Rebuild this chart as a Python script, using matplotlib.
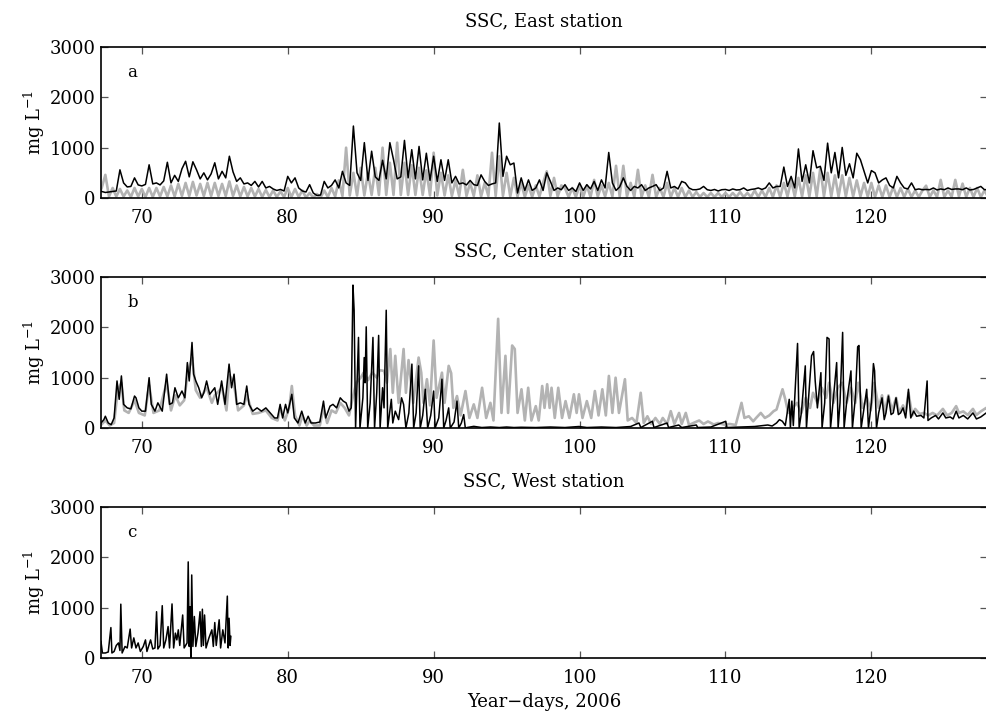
import numpy as np
import matplotlib
matplotlib.use("Agg")
import matplotlib.pyplot as plt

plt.rcParams['font.family'] = ['DejaVu Serif']
plt.rcParams['mathtext.fontset'] = 'dejavuserif'

# East station, sampled every 6 h starting at day 67.0 (one row per day)
east_t0 = 67.0
east_step = 0.25
east_black = [
    150, 130, 110, 120,   130, 140, 560, 300,   220, 230, 400, 260,
    240, 270, 660, 280,   300, 260, 340, 710,   300, 450, 330, 580,
    730, 420, 720, 560,   380, 500, 360, 480,   700, 380, 530, 400,
    830, 520, 330, 400,   280, 300, 250, 330,   220, 330, 200, 230,
    180, 150, 170, 140,   430, 300, 400, 200,   140, 120, 265, 100,
    50, 60, 330, 200,     250, 360, 200, 530,   300, 250, 1430, 500,
    350, 1100, 350, 930,  420, 350, 750, 380,   1100, 760, 380, 420,
    1145, 400, 960, 380,  1025, 360, 890, 350,  830, 330, 760, 350,
    760, 300, 430, 280,   300, 260, 350, 265,   250, 460, 330, 250,
    280, 300, 1490, 430,  830, 660, 695, 100,   400, 150, 360, 150,
    200, 360, 150, 500,   330, 150, 200, 165,   265, 150, 200, 130,
    300, 150, 265, 180,   330, 150, 360, 200,   905, 300, 150, 220,
    400, 230, 150, 230,   200, 265, 150, 200,   230, 265, 150, 200,
    530, 200, 230, 180,   330, 300, 200, 165,   165, 180, 230, 165,
    150, 170, 140, 165,   170, 150, 180, 160,   165, 200, 150, 170,
    180, 200, 170, 200,   300, 200, 230, 230,   615, 230, 430, 200,
    975, 330, 660, 300,   940, 600, 630, 350,   1090, 500, 905, 400,
    1005, 450, 680, 400,  890, 760, 530, 300,   545, 500, 300, 360,
    400, 250, 200, 430,   300, 200, 180, 300,   165, 180, 165, 170,
    165, 200, 160, 180,   165, 200, 170, 180,   180, 165, 200, 160,
    170, 200, 230, 165,   170, 180, 170, 160,
]
east_gray = [
    50, 200, 460, 30,     200, 30, 180, 30,     150, 20, 200, 30,
    180, 20, 200, 20,     200, 30, 220, 30,     250, 30, 280, 40,
    300, 40, 320, 50,     280, 40, 300, 40,     300, 40, 280, 40,
    330, 40, 250, 30,     220, 30, 200, 30,     180, 20, 160, 20,
    150, 20, 130, 20,     200, 20, 180, 20,     150, 10, 100, 10,
    80, 10, 150, 20,      200, 30, 350, 40,     1000, 50, 500, 50,
    600, 50, 500, 60,     600, 60, 1000, 60,    700, 60, 1100, 60,
    700, 60, 650, 60,     600, 60, 550, 50,     900, 50, 500, 50,
    450, 40, 350, 40,     560, 40, 300, 40,     450, 30, 300, 40,
    900, 40, 830, 40,     500, 30, 400, 30,     300, 20, 250, 20,
    250, 30, 300, 530,    40, 400, 30, 250,     200, 20, 200, 20,
    250, 20, 250, 20,     360, 30, 250, 30,     300, 30, 640, 30,
    640, 30, 300, 20,     560, 20, 250, 20,     460, 20, 200, 20,
    300, 20, 200, 20,     200, 20, 150, 20,     120, 20, 100, 20,
    100, 20, 100, 20,     100, 20, 100, 20,     120, 20, 100, 20,
    150, 20, 150, 20,     200, 20, 250, 20,     300, 30, 350, 30,
    400, 30, 450, 30,     500, 30, 595, 30,     500, 30, 450, 30,
    450, 30, 400, 30,     350, 30, 300, 30,     300, 20, 250, 20,
    250, 20, 220, 20,     200, 20, 180, 20,     150, 20, 150, 245,
    20, 150, 20, 360,     20, 150, 20, 360,     30, 285, 20, 200,
    20, 200, 20, 150,     20, 150, 20, 100,
]

# Center station, black series (day, mg/L)
center_black_day = [
    67.2, 67.4, 67.5, 67.7, 67.9, 68.1, 68.3, 68.45, 68.6, 68.75,
    69.0, 69.25, 69.5, 69.6, 69.8, 70.0, 70.25, 70.5, 70.65, 70.9,
    71.1, 71.4, 71.7, 71.9, 72.1, 72.27, 72.5, 72.75, 72.95, 73.12,
    73.25, 73.44, 73.55, 73.7, 73.9, 74.1, 74.25, 74.44, 74.65, 75.0,
    75.2, 75.47, 75.7, 75.98, 76.15, 76.32, 76.5, 76.75, 77.0, 77.19,
    77.35, 77.6, 77.9, 78.2, 78.5, 78.8, 79.1, 79.3, 79.48, 79.65,
    79.85, 80.0, 80.28, 80.45, 80.7, 80.96, 81.2, 81.4, 81.6, 81.9,
    82.2, 82.45, 82.6, 82.9, 83.1, 83.35, 83.6, 83.8, 84.0, 84.2,
    84.35, 84.47, 84.55, 84.65, 84.85, 84.95, 85.15, 85.24, 85.3, 85.38,
    85.48, 85.65, 85.84, 85.95, 86.1, 86.23, 86.33, 86.5, 86.6, 86.75,
    86.85, 87.1, 87.2, 87.37, 87.6, 87.8, 87.94, 88.1, 88.3, 88.51,
    88.63, 88.8, 88.97, 89.08, 89.25, 89.43, 89.59, 89.8, 90.0, 90.1,
    90.35, 90.57, 90.69, 90.85, 91.03, 91.14, 91.4, 91.6, 91.72, 91.9,
    92.06, 92.17, 92.3, 92.75, 93.3, 93.9, 94.5, 95.0, 95.5, 96.0,
    97.0, 98.0, 99.0, 99.96, 100.5, 101.5, 102.5, 103.5, 104.07, 104.2,
    104.99, 105.1, 106.0, 106.1, 106.8, 107.0, 108.0, 108.1, 109.0, 110.02,
    110.1, 111.0, 112.0, 112.9, 113.2, 113.5, 113.7, 113.9, 114.1, 114.37,
    114.45, 114.55, 114.65, 114.94, 115.05, 115.2, 115.47, 115.55, 115.9, 116.04,
    116.15, 116.3, 116.54, 116.62, 116.8, 116.96, 117.1, 117.2, 117.4, 117.62,
    117.72, 117.85, 118.03, 118.13, 118.3, 118.6, 118.7, 118.9, 119.06, 119.15,
    119.3, 119.5, 119.68, 119.8, 120.0, 120.14, 120.22, 120.35, 120.5, 120.73,
    120.88, 121.0, 121.17, 121.35, 121.5, 121.69, 121.85, 122.0, 122.17, 122.35,
    122.54, 122.7, 122.9, 123.1, 123.4, 123.6, 123.82, 123.88, 124.1, 124.4,
    124.6, 124.9, 125.1, 125.4, 125.6, 125.81, 126.0, 126.3, 126.6, 126.96,
    127.2, 127.5, 127.87, 128.1,
]
center_black = [
    100, 167, 234, 100, 67, 200, 935, 570, 1035, 470,
    400, 380, 635, 600, 400, 335, 335, 1000, 470, 335,
    500, 335, 1070, 470, 500, 800, 600, 735, 600, 1300,
    935, 1700, 1070, 935, 800, 600, 700, 935, 670, 800,
    470, 935, 470, 1270, 800, 1070, 470, 500, 470, 835,
    470, 335, 400, 335, 400, 300, 200, 200, 470, 200,
    470, 300, 670, 200, 100, 335, 100, 234, 100, 100,
    120, 535, 200, 435, 470, 400, 600, 535, 500, 335,
    400, 2840, 2340, 0, 1800, 0, 600, 1400, 900, 2010,
    0, 500, 1800, 0, 700, 1840, 0, 800, 400, 2340,
    0, 570, 100, 335, 167, 600, 470, 0, 300, 1270,
    0, 300, 1235, 0, 250, 770, 0, 250, 735, 0,
    200, 970, 0, 150, 400, 0, 120, 535, 0, 100,
    267, 0, 10, 33, 10, 20, 10, 20, 10, 15,
    10, 20, 10, 30, 10, 20, 10, 30, 100, 10,
    134, 10, 100, 10, 60, 10, 60, 10, 20, 134,
    10, 20, 30, 60, 40, 100, 167, 134, 50, 570,
    0, 535, 50, 1680, 0, 300, 1235, 0, 1435, 1520,
    935, 400, 1100, 0, 500, 1800, 1770, 0, 600, 1300,
    0, 500, 1900, 0, 500, 1135, 0, 600, 1615, 1640,
    0, 400, 770, 0, 500, 1280, 1135, 0, 300, 600,
    167, 300, 635, 267, 300, 600, 267, 300, 400, 200,
    770, 200, 335, 234, 250, 200, 935, 150, 200, 250,
    180, 300, 200, 220, 180, 335, 200, 250, 180, 300,
    180, 220, 300, 200,
]

# Center station, gray series (day, mg/L)
center_gray_day = [
    67.2, 67.5, 67.8, 68.1, 68.35, 68.6, 68.8, 69.1, 69.5, 69.8,
    70.2, 70.5, 70.8, 71.2, 71.7, 72.0, 72.3, 72.6, 72.9, 73.15,
    73.45, 73.7, 74.0, 74.45, 74.8, 75.0, 75.5, 75.8, 76.0, 76.3,
    76.6, 77.0, 77.2, 77.6, 78.0, 78.5, 78.9, 79.3, 79.5, 79.8,
    80.1, 80.28, 80.5, 80.8, 81.0, 81.3, 81.5, 81.8, 82.2, 82.45,
    82.7, 83.0, 83.3, 83.6, 83.9, 84.2, 84.45, 84.7, 85.0, 85.2,
    85.5, 85.8, 86.1, 86.3, 86.6, 86.8, 87.03, 87.2, 87.37, 87.6,
    87.94, 88.1, 88.28, 88.6, 88.97, 89.15, 89.3, 89.54, 89.75, 90.0,
    90.2, 90.57, 90.75, 91.03, 91.2, 91.35, 91.6, 91.85, 92.18, 92.45,
    92.75, 93.0, 93.32, 93.6, 93.89, 94.1, 94.42, 94.65, 94.92, 95.1,
    95.38, 95.56, 95.75, 96.02, 96.25, 96.48, 96.7, 97.0, 97.2, 97.44,
    97.6, 97.78, 97.95, 98.08, 98.3, 98.54, 98.8, 99.04, 99.3, 99.61,
    99.8, 99.96, 100.2, 100.5, 100.8, 101.05, 101.3, 101.56, 101.8, 102.01,
    102.25, 102.47, 102.7, 103.11, 103.3, 103.6, 103.9, 104.19, 104.4, 104.65,
    104.9, 105.2, 105.5, 105.7, 106.0, 106.25, 106.5, 106.82, 107.0, 107.28,
    107.5, 107.8, 108.2, 108.5, 108.8, 109.2, 109.5, 109.9, 110.3, 110.7,
    111.1, 111.3, 111.6, 111.9, 112.1, 112.42, 112.7, 113.0, 113.3, 113.5,
    113.91, 114.1, 114.3, 114.6, 114.9, 115.2, 115.5, 115.8, 116.0, 116.3,
    116.6, 116.9, 117.1, 117.4, 117.7, 118.0, 118.3, 118.6, 118.9, 119.1,
    119.4, 119.7, 119.95, 120.2, 120.5, 120.73, 120.9, 121.17, 121.4, 121.7,
    121.9, 122.17, 122.35, 122.54, 122.8, 123.0, 123.3, 123.6, 123.9, 124.2,
    124.5, 124.9, 125.2, 125.5, 125.81, 126.0, 126.3, 126.6, 126.96, 127.2,
    127.5, 127.87, 128.1,
]
center_gray = [
    60, 150, 50, 100, 750, 900, 350, 300, 550, 300,
    250, 850, 300, 350, 900, 350, 650, 450, 550, 1100,
    1400, 750, 600, 800, 500, 650, 800, 350, 1050, 900,
    350, 450, 650, 280, 300, 350, 200, 150, 400, 150,
    400, 835, 250, 50, 250, 50, 150, 50, 50, 400,
    100, 350, 300, 500, 400, 250, 600, 900, 1000, 1100,
    950, 1100, 1000, 1150, 1135, 900, 1570, 700, 1435, 500,
    1570, 700, 1350, 500, 1400, 1100, 500, 970, 450, 1740,
    600, 1100, 500, 1235, 1090, 400, 635, 250, 735, 200,
    470, 200, 800, 200, 500, 150, 2170, 300, 1435, 300,
    1640, 1570, 300, 770, 150, 800, 150, 435, 150, 835,
    400, 870, 400, 800, 200, 800, 200, 535, 200, 670,
    300, 670, 200, 535, 200, 735, 250, 770, 250, 1035,
    300, 1000, 300, 970, 150, 200, 100, 700, 100, 234,
    80, 200, 80, 200, 80, 335, 80, 300, 80, 300,
    60, 100, 150, 80, 130, 70, 100, 67, 80, 60,
    500, 200, 234, 134, 200, 300, 200, 250, 335, 367,
    770, 570, 300, 400, 500, 300, 600, 400, 700, 500,
    800, 600, 900, 500, 800, 900, 500, 800, 500, 900,
    400, 600, 350, 900, 400, 650, 300, 650, 350, 600,
    300, 450, 300, 700, 250, 380, 280, 300, 250, 300,
    250, 380, 250, 300, 435, 300, 330, 260, 380, 260,
    330, 400, 300,
]

# West station, black series (day, mg/L); record stops after day 76
west_day = [
    67.2, 67.3, 67.5, 67.7, 67.88, 67.95, 68.1, 68.25, 68.4, 68.5,
    68.56, 68.65, 68.85, 69.0, 69.2, 69.3, 69.45, 69.6, 69.75, 69.9,
    70.1, 70.25, 70.35, 70.6, 70.75, 70.9, 71.01, 71.1, 71.25, 71.4,
    71.5, 71.65, 71.8, 71.9, 72.07, 72.18, 72.3, 72.4, 72.5, 72.6,
    72.8, 72.9, 73.1, 73.18, 73.25, 73.3, 73.36, 73.42, 73.5, 73.6,
    73.7, 73.85, 73.99, 74.08, 74.15, 74.22, 74.3, 74.4, 74.6, 74.8,
    74.9, 75.0, 75.1, 75.3, 75.4, 75.55, 75.7, 75.86, 75.92, 75.98,
    76.05, 76.1,
]
west_black = [
    330, 100, 100, 120, 605, 100, 130, 250, 300, 150,
    1070, 100, 230, 200, 575, 200, 400, 200, 300, 130,
    230, 360, 130, 360, 180, 200, 920, 180, 250, 1040,
    200, 360, 625, 200, 1075, 200, 495, 360, 560, 250,
    855, 200, 300, 1910, 230, 1020, 0, 1650, 230, 825,
    230, 500, 920, 230, 970, 250, 855, 200, 400, 560,
    230, 705, 250, 760, 200, 560, 300, 1230, 200, 790,
    250, 430,
]

titles = ["SSC, East station", "SSC, Center station", "SSC, West station"]
panel_tags = ["a", "b", "c"]
xticks = [70, 80, 90, 100, 110, 120]
yticks = [0, 1000, 2000, 3000]

gray = "#b3b3b3"
fs = 13

fig = plt.figure(figsize=(9.86, 7.19), dpi=100)
left, width, height = 0.1024, 0.8990, 0.2100
bottoms = [0.7246, 0.4047, 0.0848]
axes = [fig.add_axes([left, b, width, height]) for b in bottoms]

east_days = east_t0 + east_step * np.arange(len(east_black))
axes[0].plot(east_days, east_gray, color=gray, lw=1.9, zorder=2)
axes[0].plot(east_days, east_black, color="k", lw=1.1, zorder=3)

axes[1].plot(center_gray_day, center_gray, color=gray, lw=1.9, zorder=2)
axes[1].plot(center_black_day, center_black, color="k", lw=1.1, zorder=3)

axes[2].plot(west_day, west_black, color="k", lw=1.1, zorder=3)

for ax, title, tag in zip(axes, titles, panel_tags):
    ax.set_xlim(67.2, 127.95)
    ax.set_ylim(0, 3000)
    ax.set_xticks(xticks)
    ax.set_yticks(yticks)
    ax.tick_params(direction="in", length=5, width=0.9, color="#555555",
                   labelsize=fs, top=True, right=True)
    ax.tick_params(axis="x", pad=8)
    ax.tick_params(axis="y", pad=4)
    ax.spines["right"].set_visible(False)
    for side in ["left", "top", "bottom"]:
        ax.spines[side].set_linewidth(1.2)
    ax.set_title(title, fontsize=fs, pad=15)
    ax.set_ylabel("mg L$^{-1}$", fontsize=fs, labelpad=2)
    ax.text(0.03, 0.8, tag, transform=ax.transAxes, fontsize=12)

axes[2].set_xlabel("Year\u2212days, 2006", fontsize=fs, labelpad=4)

fig.savefig("out.png", dpi=100)
